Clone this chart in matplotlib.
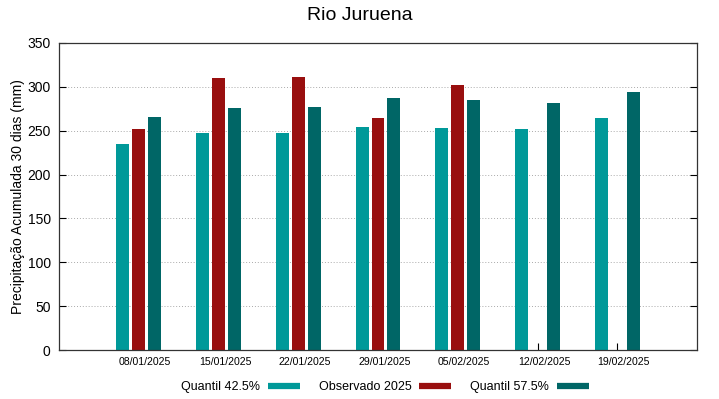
import numpy as np
import matplotlib.pyplot as plt
import matplotlib.transforms as mtransforms
from matplotlib.lines import Line2D

plt.rcParams['font.family'] = ['Liberation Sans', 'DejaVu Sans']

# data
dates = ['08/01/2025', '15/01/2025', '22/01/2025', '29/01/2025',
         '05/02/2025', '12/02/2025', '19/02/2025']
q425 = [235, 247, 247, 254, 253, 252, 264]
observed = [252, 310, 311, 264, 302, np.nan, np.nan]
q575 = [266, 276, 277, 287, 285, 282, 294]

c_q425 = '#009999'
c_obs = '#990f0f'
c_q575 = '#006666'

fig = plt.figure(figsize=(7.19, 3.99), dpi=100)
ax = fig.add_axes([59 / 719, 1 - 350 / 399, 638 / 719, 307 / 399])

x = np.arange(len(dates))
w = 0.163
off = 0.2
ax.bar(x - off, q425, width=w, color=c_q425, zorder=2)
ax.bar(x, observed, width=w, color=c_obs, zorder=2)
ax.bar(x + off, q575, width=w, color=c_q575, zorder=2)

ax.set_xlim(-1, 7)
ax.set_ylim(0, 350)
ax.set_yticks(np.arange(0, 351, 50))
ax.set_xticks(x)
ax.set_xticklabels(dates, fontsize=7.6)
ax.tick_params(axis='y', labelsize=10, direction='in', right=True, length=5, pad=6)
ax.tick_params(axis='x', direction='in', length=5, pad=5)
# gnuplot puts the date labels a little right of the tick
shift = mtransforms.ScaledTranslation(6.5 / 100, 0, fig.dpi_scale_trans)
for lab in ax.get_xticklabels():
    lab.set_transform(lab.get_transform() + shift)
ax.grid(axis='y', linestyle=(0, (1, 2)), color='#aaaaaa', linewidth=0.7, zorder=1)
for s in ax.spines.values():
    s.set_linewidth(0.9)
    s.set_color('#333333')

ax.set_ylabel('Precipitação Acumulada 30 dias (mm)', fontsize=10, labelpad=2)
fig.text(0.5, 1 - 16 / 399, 'Rio Juruena', ha='center', va='center', fontsize=14)

handles = [Line2D([], [], color=c, linewidth=4.5, solid_capstyle='butt')
           for c in (c_q425, c_obs, c_q575)]
fig.legend(handles, ['Quantil 42.5%', 'Observado 2025', 'Quantil 57.5%'],
           loc='center', bbox_to_anchor=(385 / 719, 1 - 387 / 399), ncol=3,
           frameon=False, markerfirst=False, fontsize=9, handlelength=2.56,
           handletextpad=0.64, columnspacing=1.5)

fig.savefig('out.png', dpi=100)
